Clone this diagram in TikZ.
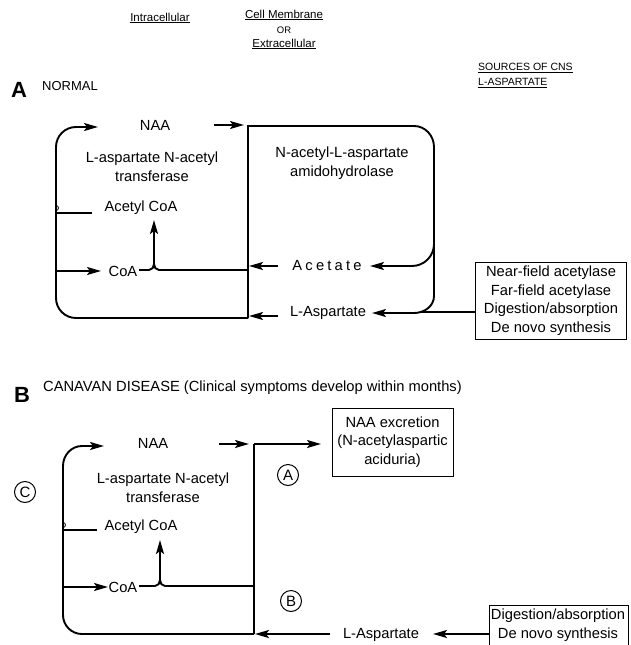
\documentclass[tikz,border=0pt]{standalone}
\usepackage{fontspec}
\setmainfont{Liberation Sans}
\usetikzlibrary{arrows.meta}
\begin{document}
\begin{tikzpicture}[x=1pt,y=-1pt,
  ln/.style={line width=1.9pt},
  arr/.style={ln,-{Stealth[length=14pt,width=8pt,inset=3pt]}},
  txt/.style={font=\fontsize{14.7}{19}\selectfont,align=center,inner sep=0pt},
  hdr/.style={font=\fontsize{11.5}{14}\selectfont,inner sep=0pt},
  bigl/.style={font=\fontsize{22}{24}\bfseries,inner sep=0pt},
  circ/.style={draw,circle,line width=1pt,minimum size=21pt,inner sep=0pt,font=\fontsize{15}{17}\selectfont},
  boxn/.style={draw,line width=1pt,align=center,inner sep=0pt,font=\fontsize{14.7}{18.5}\selectfont}]
\useasboundingbox (0,0) rectangle (631,645);
\fill[white] (0,0) rectangle (631,645);

% headers
\node[hdr] (hIntra) at (160,18) {\underline{Intracellular}};
\node[hdr] (hCell) at (284,15) {\underline{Cell Membrane}};
\node[hdr,font=\fontsize{9.5}{11}\selectfont] (hOr) at (284,30) {OR};
\node[hdr] (hExtra) at (284,44) {\underline{Extracellular}};
\node[hdr,anchor=west,font=\fontsize{10.5}{13}\selectfont] (hSrc1) at (478,68) {\underline{SOURCES OF CNS}};
\node[hdr,anchor=west,font=\fontsize{10.5}{13}\selectfont] (hSrc2) at (478,83) {\underline{L-ASPARTATE}};

% ===== A =====
\node[bigl] (labA) at (19,90) {A};
\node[txt,anchor=west,font=\fontsize{13}{15}\selectfont] (normal) at (42,86) {NORMAL};

\node[txt] (naaA) at (155,125) {NAA};
\node[txt] (transA) at (152,167) {L-aspartate N-acetyl\\transferase};
\node[txt] (amidoA) at (342,163) {N-acetyl-L-aspartate\\amidohydrolase};
\node[txt] (acoaA) at (141,208) {Acetyl CoA};
\node[txt] (coaA) at (123,271) {CoA};
\node[txt] (acetA) at (327,266) {\addfontfeature{LetterSpace=22}Acetate};
\node[txt] (laspA) at (328,313) {L-Aspartate};
\node[boxn,minimum width=151pt,minimum height=77pt] (srcA) at (551,300.5)
  {Near-field acetylase\\Far-field acetylase\\Digestion/absorption\\De novo synthesis};

\coordinate (mTopA) at (248,126);
\coordinate (mBotA) at (248,318);
% membrane + hydrolase loop
\draw[ln] (mBotA) -- (mTopA) -- (414,126) to[out=0,in=90] (434,147) -- (434,296)
  to[out=-90,in=0] (414,313);
\draw[arr] (414,313) -- (372,313);
\draw[arr] (434,244) to[out=-90,in=0] (412,266) -- (370,266);
\draw[ln] (srcA.west |- 0,312) -- (420,312);
\draw[arr] (214,125) -- (244,125);
% left loop
\draw[arr] (mBotA) -- (76,318) to[out=180,in=-90] (56,298) -- (56,147)
  to[out=90,in=180] (76,127) -- (98,127);
% acetyl CoA branch
\draw[ln] (56,213) -- (92,213);
\draw[line width=0.8pt] (56,210.5) arc[start angle=90,end angle=-90,radius=2.5];
\draw[arr] (56,271) -- (101,271);
\draw[ln] (139,270) -- (149,270) to[out=0,in=-90] (154,264);
\draw[ln] (154,264) to[out=-90,in=180] (159,270) -- (248,270);
\draw[arr] (154,265) -- (154,220);
\draw[arr] (278,266) -- (249,266);
\draw[arr] (278,316) -- (249,316);

% ===== B =====
\node[bigl] (labB) at (22,395) {B};
\node[txt,anchor=west] (canavan) at (43,388) {CANAVAN DISEASE (Clinical symptoms develop within months)};

\node[txt] (naaB) at (153,443) {NAA};
\node[txt] (transB) at (163,488) {L-aspartate N-acetyl\\transferase};
\node[txt] (acoaB) at (141,527) {Acetyl CoA};
\node[txt] (coaB) at (123,587) {CoA};
\node[txt] (laspB) at (381,635) {L-Aspartate};
\node[circ] (cA) at (288,475) {A};
\node[circ] (cB) at (291,601) {B};
\node[circ] (cC) at (25,492) {C};
\node[boxn,minimum width=121pt,minimum height=68pt] (excr) at (392.5,442)
  {NAA excretion\\(N-acetylaspartic\\aciduria)};
\node[txt] (srcBt) at (558,625) {Digestion/absorption\\De novo synthesis};
\draw[line width=1pt] (489,646) -- (489,605) -- (628,605) -- (628,646);

\coordinate (mTopB) at (254,444);
\coordinate (mBotB) at (254,634);
\draw[ln] (mBotB) -- (mTopB);
\draw[arr] (mTopB) -- (321,444);
\draw[arr] (219,444) -- (249,444);
\draw[arr] (mBotB) -- (82,634) to[out=180,in=-90] (63,615) -- (63,466)
  to[out=90,in=180] (82,446) -- (104,446);
\draw[ln] (63,530) -- (97,530);
\draw[line width=0.8pt] (63,527.5) arc[start angle=90,end angle=-90,radius=2.5];
\draw[arr] (63,587) -- (108,587);
\draw[ln] (139,586) -- (155,586) to[out=0,in=-90] (160,580);
\draw[ln] (160,580) to[out=-90,in=180] (165,586) -- (254,586);
\draw[arr] (160,581) -- (160,540);
\draw[arr] (330,634) -- (255,634);
\draw[arr] (489,634) -- (433,634);
\end{tikzpicture}
\end{document}
